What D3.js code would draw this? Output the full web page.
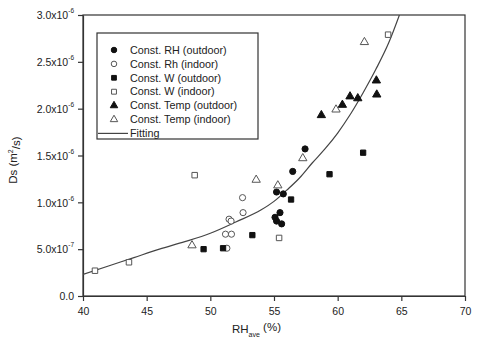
<!DOCTYPE html>
<html>
<head>
<meta charset="utf-8">
<script src="https://cdn.jsdelivr.net/npm/d3@7"></script>
<style>
  body { margin: 0; background: #fff; }
  svg text { font-family: "Liberation Sans", Arial, sans-serif; fill: #222; }
</style>
</head>
<body>
<div id="chart"></div>
<script>
// values (x = RH_ave %, y = Ds in m2/s)
var rhOutX = [55.2, 55.73, 56.47, 57.44, 55.47, 55.08, 55.2, 55.6];
var rhOutY = [1.11e-6, 1.09e-6, 1.33e-6, 1.57e-6, 0.89e-6, 0.84e-6, 0.80e-6, 0.77e-6];
var rhInX = [52.53, 52.57, 51.47, 51.63, 51.19, 51.66, 51.3];
var rhInY = [1.05e-6, 0.89e-6, 0.82e-6, 0.80e-6, 0.66e-6, 0.66e-6, 0.51e-6];
var wOutX = [49.47, 51.0, 53.3, 56.34, 59.36, 62.0];
var wOutY = [0.50e-6, 0.51e-6, 0.65e-6, 1.03e-6, 1.30e-6, 1.53e-6];
var wInX = [40.94, 43.61, 48.77, 55.4, 63.96];
var wInY = [0.27e-6, 0.36e-6, 1.29e-6, 0.62e-6, 2.79e-6];
var tOutX = [58.72, 60.37, 60.97, 61.58, 63.04, 63.07];
var tOutY = [1.93e-6, 2.04e-6, 2.13e-6, 2.11e-6, 2.30e-6, 2.15e-6];
var tInX = [48.56, 53.6, 55.3, 57.26, 59.87, 62.1];
var tInY = [0.54e-6, 1.24e-6, 1.18e-6, 1.47e-6, 1.99e-6, 2.71e-6];

// fitting curve
var fitX = [40, 42, 44, 46, 48, 50, 52, 54, 55, 56, 57, 58, 59, 60, 61, 62, 63, 64, 64.85];
var fitY = [0.23e-6, 0.32e-6, 0.41e-6, 0.50e-6, 0.58e-6, 0.67e-6, 0.79e-6, 0.92e-6, 1.01e-6,
            1.13e-6, 1.26e-6, 1.42e-6, 1.57e-6, 1.74e-6, 1.94e-6, 2.17e-6, 2.42e-6, 2.70e-6, 3.0e-6];

var xTicks = [40, 45, 50, 55, 60, 65, 70];
var yTicks = [0, 0.5e-6, 1.0e-6, 1.5e-6, 2.0e-6, 2.5e-6, 3.0e-6];
var yTickBase = ["0.0", "5.0x10", "1.0x10", "1.5x10", "2.0x10", "2.5x10", "3.0x10"];
var yTickExp = ["", "-7", "-6", "-6", "-6", "-6", "-6"];

var seriesNames = ["Const. RH (outdoor)", "Const. Rh (indoor)", "Const. W (outdoor)",
                   "Const. W (indoor)", "Const. Temp (outdoor)", "Const. Temp (indoor)"];

var W = 477, H = 342;
var margin = {top: 15, right: 12, bottom: 46, left: 83};
var width = W - margin.left - margin.right,
    height = H - margin.top - margin.bottom;

var svg = d3.select("#chart").append("svg")
    .attr("width", W).attr("height", H);
var g = svg.append("g")
    .attr("transform", "translate(" + margin.left + "," + margin.top + ")");

var x = d3.scaleLinear().domain([40, 70]).range([0, width]);
var y = d3.scaleLinear().domain([0, 3.0e-6]).range([height, 0]);

// frame
g.append("rect")
    .attr("width", width).attr("height", height)
    .attr("fill", "none").attr("stroke", "#333").attr("stroke-width", 1.2);

var xAxis = d3.axisBottom(x).tickValues(xTicks).tickSize(5).tickSizeOuter(0);
var gx = g.append("g").attr("transform", "translate(0," + height + ")").call(xAxis);
gx.select(".domain").attr("stroke", "#333").attr("stroke-width", 1.2);
gx.selectAll(".tick line").attr("stroke", "#333").attr("stroke-width", 1.2);
gx.selectAll(".tick text").attr("font-size", 10.5).attr("dy", "1.0em");

var yAxis = d3.axisLeft(y).tickValues(yTicks).tickSize(5).tickSizeOuter(0).tickFormat("");
var gy = g.append("g").call(yAxis);
gy.select(".domain").attr("stroke", "#333").attr("stroke-width", 1.2);
gy.selectAll(".tick line").attr("stroke", "#333").attr("stroke-width", 1.2);
gy.selectAll(".tick text").each(function(d, i) {
  var t = d3.select(this).attr("font-size", 10.5).attr("x", -9).attr("dy", "0.35em");
  t.text(null);
  t.append("tspan").text(yTickBase[i]);
  if (yTickExp[i]) t.append("tspan").attr("font-size", 6.5).attr("dy", "-0.9em").text(yTickExp[i]);
});

// axis titles
var xt = svg.append("text")
    .attr("x", margin.left + x(51.7)).attr("y", 333)
    .attr("font-size", 11.5);
xt.append("tspan").text("RH");
xt.append("tspan").attr("font-size", 7).attr("dy", "0.55em").text("ave");
xt.append("tspan").attr("dy", "-0.55em").text(" (%)");

var yt = svg.append("text")
    .attr("transform", "translate(17," + (margin.top + y(1.45e-6)) + ") rotate(-90)")
    .attr("text-anchor", "middle")
    .attr("font-size", 11.5);
yt.append("tspan").text("Ds (m");
yt.append("tspan").attr("font-size", 7).attr("dy", "-0.6em").text("2");
yt.append("tspan").attr("dy", "0.6em").text("/s)");

// fitting curve
g.append("clipPath").attr("id", "clip").append("rect")
    .attr("width", width).attr("height", height);
var fitData = fitX.map(function(v, i) { return [v, fitY[i]]; });
g.append("path")
    .datum(fitData)
    .attr("clip-path", "url(#clip)")
    .attr("fill", "none").attr("stroke", "#444").attr("stroke-width", 1.2)
    .attr("d", d3.line().x(d => x(d[0])).y(d => y(d[1])).curve(d3.curveMonotoneX));

// scatter series
var series = [
  {xs: rhOutX, ys: rhOutY, sym: d3.symbolCircle, size: 30, filled: true},
  {xs: rhInX, ys: rhInY, sym: d3.symbolCircle, size: 30, filled: false},
  {xs: wOutX, ys: wOutY, sym: d3.symbolSquare, size: 28, filled: true},
  {xs: wInX, ys: wInY, sym: d3.symbolSquare, size: 30, filled: false},
  {xs: tOutX, ys: tOutY, sym: d3.symbolTriangle, size: 30, filled: true},
  {xs: tInX, ys: tInY, sym: d3.symbolTriangle, size: 30, filled: false}
];

function styleSym(sel, s) {
  sel.attr("fill", s.filled ? "#111" : "#fff")
     .attr("stroke", s.filled ? "#111" : "#555")
     .attr("stroke-width", 1);
}

series.forEach(function(s) {
  var pts = s.xs.map(function(v, i) { return [v, s.ys[i]]; });
  g.append("g").selectAll("path").data(pts).enter()
    .append("path")
    .attr("d", d3.symbol().type(s.sym).size(s.size))
    .attr("transform", d => "translate(" + x(d[0]) + "," + y(d[1]) + ")")
    .call(styleSym, s);
});

// legend
var leg = svg.append("g").attr("transform", "translate(97,33)");
leg.append("rect").attr("width", 161).attr("height", 106)
    .attr("fill", "#fff").attr("stroke", "#333").attr("stroke-width", 1.2);
seriesNames.forEach(function(name, i) {
  var ry = 17 + i * 13.9;
  leg.append("path")
    .attr("d", d3.symbol().type(series[i].sym).size(series[i].size * 0.8))
    .attr("transform", "translate(17," + ry + ")")
    .call(styleSym, series[i]);
  leg.append("text").attr("x", 33).attr("y", ry).attr("dy", "0.35em")
    .attr("font-size", 10.8).text(name);
});
var fy = 17 + 6 * 13.9;
leg.append("line").attr("x1", 1).attr("x2", 31).attr("y1", fy).attr("y2", fy)
    .attr("stroke", "#444").attr("stroke-width", 1.2);
leg.append("text").attr("x", 33).attr("y", fy).attr("dy", "0.35em")
    .attr("font-size", 10.8).text("Fitting");
</script>
</body>
</html>
